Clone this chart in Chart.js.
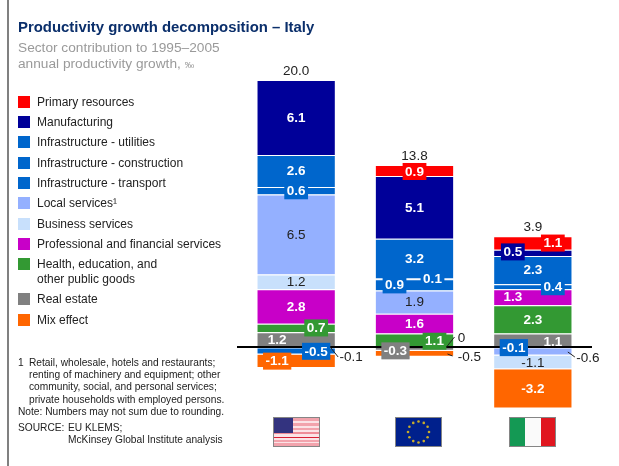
<!DOCTYPE html>
<html>
<head>
<meta charset="utf-8">
<script src="https://cdn.jsdelivr.net/npm/chart.js@4"></script>
<style>
body{margin:0;background:#fff;font-family:"Liberation Sans",Arial,sans-serif;}
#page{position:relative;width:619px;height:466px;overflow:hidden;}
#page div,#page svg{position:absolute;white-space:nowrap;}
#page svg{filter:blur(.4px);}
#bar{left:7px;top:0;width:2px;height:466px;background:#808080;}
#title{left:18px;top:19px;font-size:14.9px;font-weight:bold;color:#0b2f6b;}
.sub{left:18px;font-size:13.7px;color:#9a9a9a;}
.sq{left:18px;width:12px;height:12px;}
.lg{left:37px;font-size:12px;color:#222;line-height:14px;}
.nt{font-size:10.2px;color:#222;line-height:12px;}
canvas{position:absolute;left:0;top:0;}
</style>
</head>
<body>
<div id="page">
<canvas id="grafico" width="619" height="466"></canvas>
<div id="bar"></div>
<div id="title">Productivity growth decomposition – Italy</div>
<div class="sub" style="top:40px">Sector contribution to 1995–2005</div>
<div class="sub" style="top:56px">annual productivity growth, <span style="font-size:9.5px">‰</span></div>
<div id="leyenda"></div>
<div class="nt" style="left:18px;top:357px">1</div>
<div class="nt" style="left:29px;top:357px">Retail, wholesale, hotels and restaurants;</div>
<div class="nt" style="left:29px;top:369px">renting of machinery and equipment; other</div>
<div class="nt" style="left:29px;top:381px">community, social, and personal services;</div>
<div class="nt" style="left:29px;top:394px">private households with employed persons.</div>
<div class="nt" style="left:18px;top:406px">Note: Numbers may not sum due to rounding.</div>
<div class="nt" style="left:18px;top:422px">SOURCE:</div>
<div class="nt" style="left:68px;top:422px">EU KLEMS;</div>
<div class="nt" style="left:68px;top:434px">McKinsey Global Institute analysis</div>

<svg style="left:273px;top:417px" width="47" height="30">
  <rect width="47" height="30" fill="#fbe3e6"/>
  <rect y="1" width="47" height="3" fill="#f2a3ac"/><rect y="6" width="47" height="3" fill="#f2a3ac"/><rect y="11" width="47" height="2" fill="#f2a3ac"/>
  <rect y="15" width="47" height="2" fill="#ee8d98"/><rect y="20" width="47" height="1" fill="#d92035"/>
  <rect y="23" width="47" height="6" fill="#f2a3ac"/><rect y="25" width="47" height="1" fill="#fbe3e6"/>
  <rect x="1" y="1" width="19" height="15" fill="#33337f"/>
  <rect x=".5" y=".5" width="46" height="29" fill="none" stroke="#858585"/>
</svg>
<svg id="euflag" style="left:395px;top:417px" width="47" height="30">
  <rect width="47" height="30" fill="#00208c"/>
  <rect x=".5" y=".5" width="46" height="29" fill="none" stroke="#858585"/>
</svg>
<svg style="left:509px;top:417px" width="47" height="30">
  <rect width="16" height="30" fill="#149954"/><rect x="16" width="16" height="30" fill="#fafafa"/><rect x="32" width="15" height="30" fill="#e0161f"/>
  <rect x=".5" y=".5" width="46" height="29" fill="none" stroke="#858585"/>
</svg>
</div>

<script>
const paises=["United States","EU","Italy"];
const sectores=["Primary resources","Manufacturing","Infrastructure - utilities","Infrastructure - construction","Infrastructure - transport","Local services¹","Business services","Professional and financial services","Health, education, and\nother public goods","Real estate","Mix effect"];
const colores=["#ff0000","#000099","#0066cc","#0066cc","#0066cc","#94b0ff","#c8e0fc","#c800c8","#339933","#808080","#ff6600"];

// values per sector: US, EU, Italy
const primario=[-0.1,0.9,1.1];
const manufactura=[6.1,5.1,0.5];
const utilities=[2.6,3.2,2.3];
const construccion=[-0.5,0.1,-0.1];
const transporte=[0.6,0.9,0.4];
const locales=[6.5,1.9,-0.6];
const negocios=[1.2,0,-1.1];
const profesionales=[2.8,1.6,1.3];
const salud=[0.7,1.1,2.3];
const inmobiliario=[1.2,-0.3,1.1];
const mix=[-1.1,-0.5,-3.2];
const totales=["20.0","13.8","3.9"];

const valores=[primario,manufactura,utilities,construccion,transporte,locales,negocios,profesionales,salud,inmobiliario,mix];

// labels that do not sit plain in the middle of the segment: sector, country, dx, dy, box
const etiquetas=[
  [4,0,0,0,true],[8,0,20,0,true],[9,0,-19,0,false],[3,0,20,0,true],[10,0,-19,0,true],
  [0,1,0,1,true],[4,1,-20,0,true],[3,1,18,0,true],[8,1,20,1,true],[9,1,-19,2,true],
  [0,2,20,0,true],[1,2,-20,-1,true],[4,2,20,0,true],[7,2,-20,0,false],[9,2,20,2,false],[3,2,-19,0,true]
];
// labels outside the bar, with a leader: sector, country, text x/y and leader from/to, relative to the bar centre and zero line
const llamadas=[
  [0,0,55,10,34,0,42,10],
  [10,1,55,10,33,7,38,9],
  [6,1,47,-9,32,0,40,-10],
  [5,2,55,11,35,5,42,10]
];
const oscuras=[5,6];

// positive stack goes bottom-up, negative stack goes down from the line in legend order
let datasets=[];
for(let i=sectores.length-1;i>=0;i--){
  datasets.push({label:sectores[i],sector:i,backgroundColor:colores[i],borderColor:"#ffffff",borderWidth:1,stack:"s",
    data:valores[i].map(v=>v>0?v:null)});
}
for(let i=0;i<sectores.length;i++){
  datasets.push({label:sectores[i],sector:i,backgroundColor:colores[i],borderColor:"#ffffff",borderWidth:1,stack:"s",
    data:valores[i].map(v=>v<=0?v:null)});
}

function buscarBarra(chart,sector,pais){
  for(let d=0;d<chart.data.datasets.length;d++){
    const ds=chart.data.datasets[d];
    if(ds.sector==sector && ds.data[pais]!==null) return chart.getDatasetMeta(d).data[pais];
  }
}

function textoValor(v){
  return v==0 ? "0" : v.toFixed(1);
}

const dibujarEtiquetas={
  id:"dibujarEtiquetas",
  afterDatasetsDraw(chart){
    const ctx=chart.ctx;
    const y=chart.scales.y, x=chart.scales.x;
    const cero=y.getPixelForValue(0);
    ctx.save();
    ctx.textAlign="center";
    ctx.textBaseline="middle";

    // zero line
    ctx.strokeStyle="#000";
    ctx.lineWidth=2;
    ctx.beginPath();
    ctx.moveTo(chart.chartArea.left,cero);
    ctx.lineTo(chart.chartArea.right,cero);
    ctx.stroke();

    for(let s=0;s<sectores.length;s++){
      for(let p=0;p<paises.length;p++){
        if(llamadas.some(l=>l[0]==s && l[1]==p)) continue;
        const barra=buscarBarra(chart,s,p);
        const e=etiquetas.find(l=>l[0]==s && l[1]==p);
        const px=x.getPixelForValue(p)+(e?e[2]:0);
        const py=(barra.y+barra.base)/2+(e?e[3]:0);
        const txt=textoValor(valores[s][p]);
        const oscuro=oscuras.includes(s);
        ctx.font=(oscuro?"":"bold ")+"13.5px 'Liberation Sans'";
        if(e && e[4]){
          const w=ctx.measureText(txt).width+5;
          ctx.fillStyle=colores[s];
          ctx.fillRect(px-w/2,py-8.5,w,17);
        }
        ctx.fillStyle=oscuro?"#222":"#fff";
        ctx.fillText(txt,px,py+0.5);
      }
    }

    ctx.font="13.5px 'Liberation Sans'";
    ctx.fillStyle="#222";
    llamadas.forEach(l=>{
      const cx=x.getPixelForValue(l[1]);
      ctx.strokeStyle="#222";
      ctx.lineWidth=1;
      ctx.beginPath();
      ctx.moveTo(cx+l[4],cero+l[5]);
      ctx.lineTo(cx+l[6],cero+l[7]);
      ctx.stroke();
      ctx.fillText(textoValor(valores[l[0]][l[1]]),cx+l[2],cero+l[3]);
    });

    // totals over the positive stack
    totales.forEach((t,p)=>{
      const suma=valores.reduce((a,v)=>a+(v[p]>0?v[p]:0),0);
      ctx.fillText(t,x.getPixelForValue(p),y.getPixelForValue(suma)-9);
    });
    ctx.restore();
  }
};

let miCanvas=document.getElementById("grafico").getContext("2d");
let graficoItalia=new Chart(miCanvas,{
  type:"bar",
  data:{labels:paises,datasets:datasets},
  options:{
    responsive:false,
    animation:false,
    layout:{padding:{left:237,right:27,top:20,bottom:46}},
    plugins:{legend:{display:false},tooltip:{enabled:false}},
    scales:{
      x:{display:false,stacked:true},
      y:{display:false,stacked:true,min:-5.935,max:26.585}
    },
    datasets:{bar:{barPercentage:0.67,categoryPercentage:1}}
  },
  plugins:[dibujarEtiquetas]
});

// legend beside the chart
const filasLeyenda=[96,116,136,157,177,197,218,238,258,293,314];
const leyenda=document.getElementById("leyenda");
sectores.forEach((s,i)=>{
  const sq=document.createElement("div");
  sq.className="sq";
  sq.style.top=filasLeyenda[i]+"px";
  sq.style.background=colores[i];
  leyenda.appendChild(sq);
  s.split("\n").forEach((linea,j)=>{
    const t=document.createElement("div");
    t.className="lg";
    t.style.top=(filasLeyenda[i]-1+j*15)+"px";
    t.textContent=linea;
    leyenda.appendChild(t);
  });
});

// twelve stars on the EU flag
const eu=document.getElementById("euflag");
for(let i=0;i<12;i++){
  const c=document.createElementNS("http://www.w3.org/2000/svg","circle");
  c.setAttribute("cx",23.5+10.5*Math.cos(i*Math.PI/6));
  c.setAttribute("cy",15+10.5*Math.sin(i*Math.PI/6));
  c.setAttribute("r",1.3);
  c.setAttribute("fill","#c9ac2a");
  eu.appendChild(c);
}
</script>
</body>
</html>
